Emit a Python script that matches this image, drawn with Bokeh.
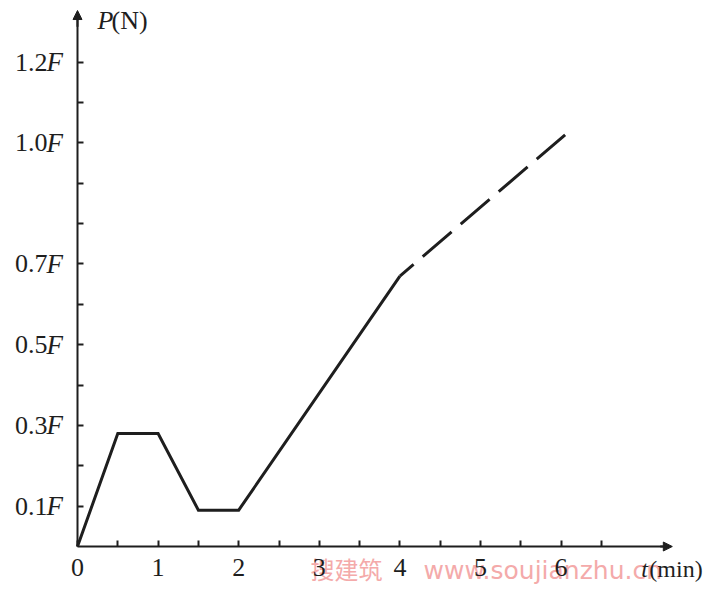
from bokeh.plotting import figure
from bokeh.models import (Range1d, LinearAxis, FixedTicker, CustomLabelingPolicy,
                          Arrow, NormalHead, Label, LabelSet, ColumnDataSource)
from bokeh.core.properties import value
from bokeh.embed import file_html
from bokeh.resources import INLINE

# ---------------- data ----------------
t_solid = [0.0, 0.5, 1.0, 1.5, 2.0, 4.0]
p_solid = [0.0, 0.28, 0.28, 0.09, 0.09, 0.67]
t_dashed = [4.0, 6.05]
p_dashed = [0.67, 1.02]

x_major_ticks = [0, 1, 2, 3, 4, 5, 6]
x_minor_ticks = [0.5, 1.5, 2.5, 3.5, 4.5, 5.5, 6.5]
y_major_ticks = [0.1, 0.3, 0.5, 0.7, 1.0, 1.2]
y_minor_ticks = [0.2, 0.4, 0.6, 0.8, 0.9, 1.1]
y_unit_suffix = ["F", "F", "F", "F", "F", "F"]

x_title_var, x_title_unit = "t", "(min)"
y_title_var, y_title_unit = "P", "(N)"
watermark_cn = "搜建筑"
watermark_url = "www.soujianzhu.cn"

x_axis_end = 7.38
y_axis_end = 1.328

# ---------------- layout ----------------
W, H = 704, 584
OX, OY = 77, 546          # canvas position of the origin
SX, SY = 80.6, 403.6      # px per unit
INK = "#1e1e1e"
SERIF = "Liberation Serif"
PINK = "#f4aaaa"

p = figure(width=W, height=H,
           x_range=Range1d((0 - OX) / SX, (W - OX) / SX),
           y_range=Range1d((OY - H) / SY, OY / SY),
           x_axis_type=None, y_axis_type=None,
           output_backend="svg", toolbar_location=None,
           min_border_left=0, min_border_right=0,
           min_border_top=0, min_border_bottom=0,
           outline_line_color=None, background_fill_color="white",
           border_fill_color="white")

# the axes draw only line + ticks; their tick texts are drawn below as label sets
no_labels = CustomLabelingPolicy(code="""
for (const i of indices) { indices.unset(i) }
return indices
""")


def style_axis(ax):
    ax.axis_line_width = 2
    ax.axis_line_color = INK
    ax.major_tick_in = 6
    ax.major_tick_out = 0
    ax.minor_tick_in = 6
    ax.minor_tick_out = 0
    ax.major_tick_line_width = 2
    ax.minor_tick_line_width = 2
    ax.major_tick_line_color = INK
    ax.minor_tick_line_color = INK
    ax.major_label_text_font_size = "0px"
    ax.major_label_standoff = 0
    ax.major_label_policy = no_labels


xaxis = LinearAxis(ticker=FixedTicker(ticks=x_major_ticks, minor_ticks=x_minor_ticks),
                   fixed_location=0, bounds=(0, x_axis_end - 0.05))
style_axis(xaxis)
p.add_layout(xaxis, "below")

yaxis = LinearAxis(ticker=FixedTicker(ticks=y_major_ticks, minor_ticks=y_minor_ticks),
                   fixed_location=0, bounds=(0, y_axis_end - 0.02))
style_axis(yaxis)
p.add_layout(yaxis, "left")

# arrow heads at the axis ends
p.add_layout(Arrow(end=NormalHead(size=9, fill_color=INK, line_color=INK, line_width=1),
                   x_start=x_axis_end - 0.15, y_start=0, x_end=x_axis_end, y_end=0,
                   line_width=2, line_color=INK))
p.add_layout(Arrow(end=NormalHead(size=9, fill_color=INK, line_color=INK, line_width=1),
                   x_start=0, y_start=y_axis_end - 0.04, x_end=0, y_end=y_axis_end,
                   line_width=2, line_color=INK))

# watermark (placed in screen units: it is not part of the data), drawn first
p.add_layout(Label(x=310, y=16, x_units="screen", y_units="screen", text=watermark_cn,
                   text_font="Noto Sans CJK SC", text_font_size="24px",
                   text_align="left", text_baseline="alphabetic",
                   text_color=PINK))
p.add_layout(Label(x=423, y=14, x_units="screen", y_units="screen", text=watermark_url,
                   text_font="DejaVu Sans", text_font_size="25px",
                   text_align="left", text_baseline="alphabetic",
                   text_color=PINK))

# the load curve
p.line(t_solid, p_solid, line_width=3, line_color=INK, line_join="miter")
p.line(t_dashed, p_dashed, line_width=3, line_color=INK,
       line_dash="38 12", line_dash_offset=20)

# x tick labels
xsrc = ColumnDataSource(dict(x=x_major_ticks, y=[0] * len(x_major_ticks),
                             text=[str(v) for v in x_major_ticks]))
p.add_layout(LabelSet(x="x", y="y", text="text", source=xsrc, y_offset=-21,
                      text_align="center", text_baseline="middle",
                      text_font=value(SERIF), text_font_size="26px", text_color=INK))

# y tick labels: upright number + italic F
ysrc = ColumnDataSource(dict(x=[0] * len(y_major_ticks), y=y_major_ticks,
                             num=["%.1f" % v for v in y_major_ticks], unit=y_unit_suffix))
p.add_layout(LabelSet(x="x", y="y", text="num", source=ysrc, x_offset=-30, y_offset=0,
                      text_align="right", text_baseline="middle",
                      text_font=value(SERIF), text_font_size="26px", text_color=INK))
p.add_layout(LabelSet(x="x", y="y", text="unit", source=ysrc, x_offset=-31, y_offset=0,
                      text_align="left", text_baseline="middle",
                      text_font=value(SERIF), text_font_style="italic",
                      text_font_size="27px", text_color=INK))

# axis titles
p.add_layout(Label(x=0, y=y_axis_end, x_offset=20, y_offset=-10, text=y_title_var,
                   text_font=SERIF, text_font_style="italic", text_font_size="26px",
                   text_align="left", text_baseline="middle", text_color=INK))
p.add_layout(Label(x=0, y=y_axis_end, x_offset=34, y_offset=-10, text=y_title_unit,
                   text_font=SERIF, text_font_size="26px",
                   text_align="left", text_baseline="middle", text_color=INK))
p.add_layout(Label(x=x_axis_end, y=0, x_offset=-31, y_offset=-22, text=x_title_var,
                   text_font=SERIF, text_font_style="italic", text_font_size="24px",
                   text_align="left", text_baseline="middle", text_color=INK))
p.add_layout(Label(x=x_axis_end, y=0, x_offset=-23, y_offset=-22, text=x_title_unit,
                   text_font=SERIF, text_font_size="24px",
                   text_align="left", text_baseline="middle", text_color=INK))

open("out.html", "w").write(file_html(p, INLINE))
